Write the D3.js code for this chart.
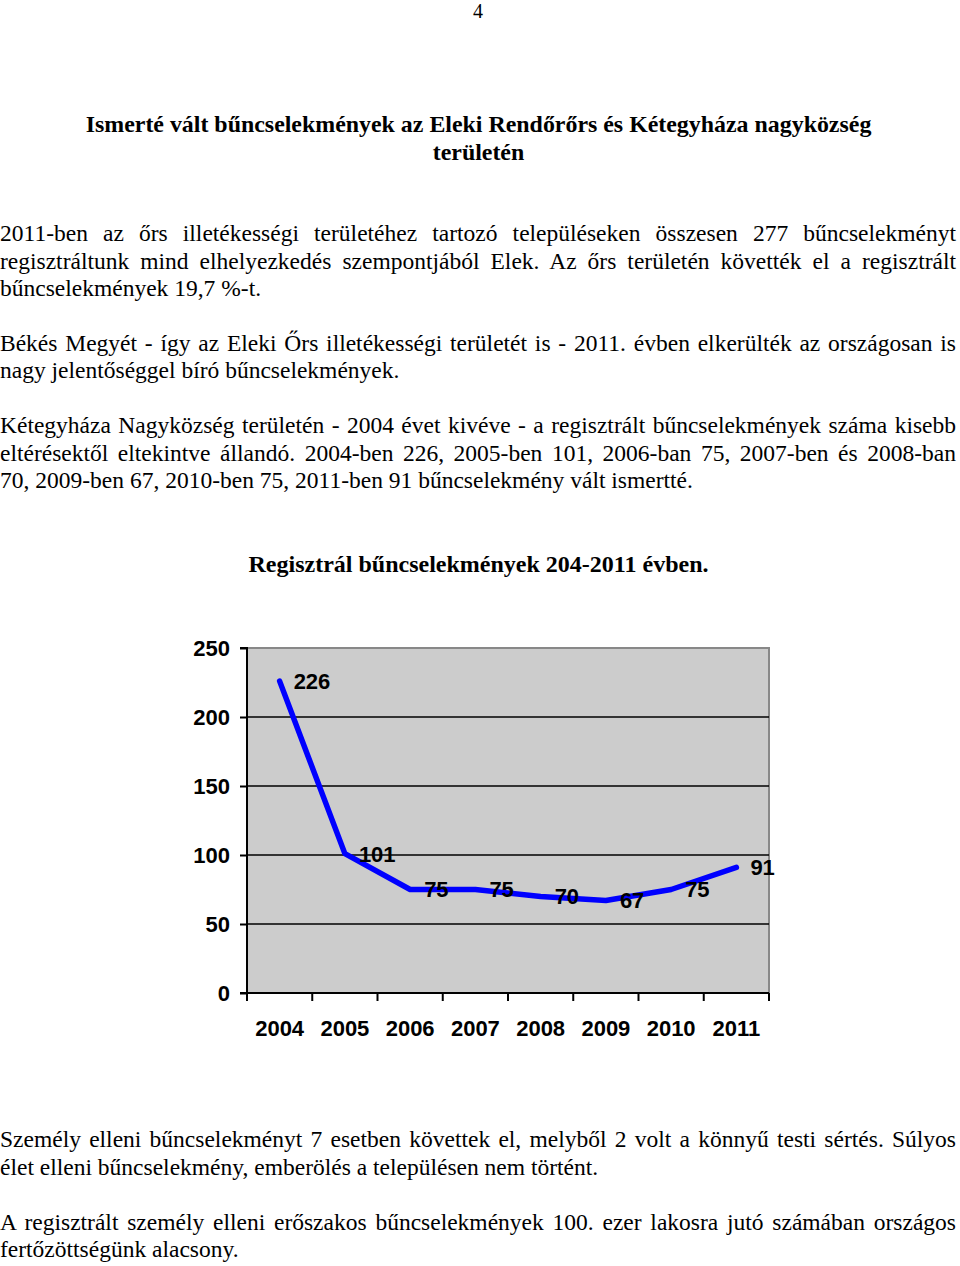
<!DOCTYPE html>
<html>
<head>
<meta charset="utf-8">
<script src="https://cdn.jsdelivr.net/npm/d3@7"></script>
<style>
  html, body { margin: 0; padding: 0; background: #fff; }
  svg { display: block; }
</style>
</head>
<body>
<svg id="page" width="960" height="1266"></svg>
<script>
// ---- chart data ----
const years = ["2004", "2005", "2006", "2007", "2008", "2009", "2010", "2011"];
const values = [226, 101, 75, 75, 70, 67, 75, 91];
const yTicks = [0, 50, 100, 150, 200, 250];
const chartTitle = "Regisztrál bűncselekmények 204-2011 évben.";

// ---- page text ----
const pageNumber = "4";
const titleLines = [
  "Ismerté vált bűncselekmények az Eleki Rendőrőrs és Kétegyháza nagyközség",
  "területén"
];
// [text, justified?, baseline]
const bodyLines = [
  ["2011-ben az őrs illetékességi területéhez tartozó településeken összesen 277 bűncselekményt", true, 241],
  ["regisztráltunk mind elhelyezkedés szempontjából Elek. Az őrs területén követték el a regisztrált", true, 269],
  ["bűncselekmények 19,7 %-t.", false, 296],
  ["Békés Megyét - így az Eleki Őrs illetékességi területét is - 2011. évben elkerülték az országosan is", true, 351],
  ["nagy jelentőséggel bíró bűncselekmények.", false, 378],
  ["Kétegyháza Nagyközség területén - 2004 évet kivéve - a regisztrált bűncselekmények száma kisebb", true, 433],
  ["eltérésektől eltekintve állandó. 2004-ben 226, 2005-ben 101, 2006-ban 75, 2007-ben és 2008-ban", true, 461],
  ["70, 2009-ben 67, 2010-ben 75, 2011-ben 91 bűncselekmény vált ismertté.", false, 488],
  ["Személy elleni bűncselekményt 7 esetben követtek el, melyből 2 volt a könnyű testi sértés. Súlyos", true, 1147],
  ["élet elleni bűncselekmény, emberölés a településen nem történt.", false, 1175],
  ["A regisztrált személy elleni erőszakos bűncselekmények 100. ezer lakosra jutó számában országos", true, 1230],
  ["fertőzöttségünk alacsony.", false, 1257]
];

const svg = d3.select("#page");
const serif = "'Liberation Serif', 'Times New Roman', serif";
const sans = "'Liberation Sans', Arial, sans-serif";

svg.append("text")
  .attr("x", 478).attr("y", 18)
  .attr("text-anchor", "middle")
  .style("font-family", serif).style("font-size", "20px")
  .text(pageNumber);

svg.selectAll("text.title").data(titleLines).join("text")
  .attr("class", "title")
  .attr("x", 478.5).attr("y", (d, i) => 132 + i * 27.5)
  .attr("text-anchor", "middle")
  .style("font-family", serif).style("font-size", "23.9px").style("font-weight", "bold")
  .text(d => d);

const lineWidth = 956;
svg.selectAll("text.body").data(bodyLines).join("text")
  .attr("class", "body")
  .attr("x", 0).attr("y", d => d[2])
  .style("font-family", serif).style("font-size", "23.5px")
  .attr("xml:space", "preserve")
  .text(d => d[0])
  .each(function(d) {
    if (!d[1]) return;
    const len = this.getComputedTextLength();
    const spaces = (d[0].match(/ /g) || []).length;
    if (spaces > 0) {
      d3.select(this).style("word-spacing", ((lineWidth - len) / spaces) + "px");
    }
  });

svg.append("text")
  .attr("x", 478.5).attr("y", 572)
  .attr("text-anchor", "middle")
  .style("font-family", serif).style("font-size", "24px").style("font-weight", "bold")
  .text(chartTitle);

// ---- chart ----
const pLeft = 247, pRight = 769, pTop = 648, pBottom = 993;
const x = d3.scaleBand().domain(years).range([pLeft, pRight]).padding(0);
const y = d3.scaleLinear().domain([0, 250]).range([pBottom, pTop]);

const g = svg.append("g");

g.append("rect")
  .attr("x", pLeft).attr("y", y(250))
  .attr("width", pRight - pLeft).attr("height", pBottom - y(250))
  .attr("fill", "#cccccc");

// plot border (top, right) grey
g.append("path")
  .attr("d", `M${pLeft},${y(250)}H${pRight}V${pBottom}`)
  .attr("fill", "none").attr("stroke", "#888888").attr("stroke-width", 2);

// gridlines
g.selectAll("line.grid").data(yTicks.filter(t => t > 0 && t < 250)).join("line")
  .attr("class", "grid")
  .attr("x1", pLeft).attr("x2", pRight)
  .attr("y1", d => y(d)).attr("y2", d => y(d))
  .attr("stroke", "#000").attr("stroke-width", 1.5);

// y axis
const yAxis = d3.axisLeft(y).tickValues(yTicks).tickSize(7).tickPadding(10).tickFormat(d3.format("d"));
const ya = g.append("g").attr("transform", `translate(${pLeft},0)`).call(yAxis);
ya.select(".domain").attr("stroke", "#000").attr("stroke-width", 2).attr("d", `M-7,${pTop}H0V${pBottom}H-7`);
ya.selectAll(".tick line").attr("stroke", "#000").attr("stroke-width", 2);
ya.selectAll(".tick text")
  .style("font-family", sans).style("font-size", "22px").style("font-weight", "bold")
  .attr("fill", "#000").attr("dy", "0.36em");

// x axis
const xa = g.append("g").attr("transform", `translate(0,${pBottom})`)
  .call(d3.axisBottom(x).tickSize(0).tickPadding(27));
xa.select(".domain").remove();
xa.append("line").attr("x1", pLeft).attr("x2", pRight).attr("y1", 0).attr("y2", 0)
  .attr("stroke", "#000").attr("stroke-width", 2);
const bounds = years.map(d => x(d)).concat([x(years[years.length - 1]) + x.bandwidth()]);
xa.selectAll("line.xt").data(bounds).join("line")
  .attr("class", "xt")
  .attr("x1", d => d).attr("x2", d => d).attr("y1", 0).attr("y2", 8)
  .attr("stroke", "#000").attr("stroke-width", 2);
xa.selectAll(".tick text")
  .style("font-family", sans).style("font-size", "22px").style("font-weight", "bold")
  .attr("fill", "#000");

// line
const cx = d => x(d) + x.bandwidth() / 2;
const line = d3.line().x((d, i) => cx(years[i])).y(d => y(d));
g.append("path")
  .datum(values)
  .attr("d", line)
  .attr("fill", "none").attr("stroke", "#0000ff").attr("stroke-width", 5.5)
  .attr("stroke-linejoin", "round").attr("stroke-linecap", "round");

// data labels
g.selectAll("text.lbl").data(values).join("text")
  .attr("class", "lbl")
  .attr("x", (d, i) => cx(years[i]) + 14)
  .attr("y", d => y(d))
  .attr("dy", "0.36em")
  .style("font-family", sans).style("font-size", "22px").style("font-weight", "bold")
  .attr("fill", "#000")
  .text(d => d);
</script>
</body>
</html>
